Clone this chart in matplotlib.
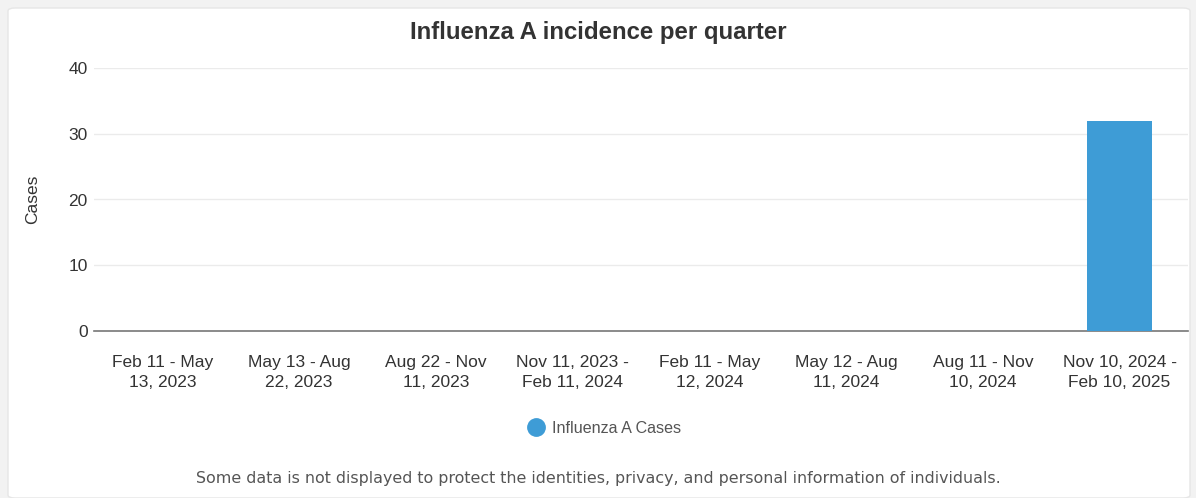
import matplotlib.pyplot as plt
from matplotlib.patches import FancyBboxPatch
from matplotlib.lines import Line2D

quarters = ["Feb 11 - May\n13, 2023", "May 13 - Aug\n22, 2023", "Aug 22 - Nov\n11, 2023",
            "Nov 11, 2023 -\nFeb 11, 2024", "Feb 11 - May\n12, 2024", "May 12 - Aug\n11, 2024",
            "Aug 11 - Nov\n10, 2024", "Nov 10, 2024 -\nFeb 10, 2025"]
cases = [0, 0, 0, 0, 0, 0, 0, 32]
yticks = [0, 10, 20, 30, 40]

plt.rcParams['font.family'] = ['Liberation Sans', 'DejaVu Sans']
blue = '#3e9cd6'

fig = plt.figure(figsize=(11.96, 4.98), dpi=100)
fig.patch.set_facecolor('#f2f2f2')
# white card behind everything
card = FancyBboxPatch((8/1196, 0), 1 - 14/1196, 1 - 8/498,
                      boxstyle="round,pad=0,rounding_size=0.006",
                      transform=fig.transFigure, facecolor='white',
                      edgecolor='#e6e6e6', linewidth=1, zorder=-10)
fig.patches.append(card)

ax = fig.add_axes([94/1196, 1 - 331/498, (1188 - 94)/1196, (331 - 68)/498])
ax.set_zorder(1)
ax.set_facecolor('none')
x = range(len(quarters))
ax.bar(x, cases, width=0.47, color=blue, zorder=3)
ax.set_xlim(-0.5, len(quarters) - 0.5)
ax.set_ylim(0, 40)
ax.set_yticks(yticks)
ax.set_xticks(list(x))
ax.set_xticklabels(quarters, fontsize=12.5, color='#333333', linespacing=1.45)
ax.tick_params(axis='y', labelsize=12.5, labelcolor='#333333', length=0, pad=4.5)
ax.tick_params(axis='x', length=0, pad=17)
ax.grid(axis='y', color='#ebebeb', linewidth=1, zorder=0)
for s in ['top', 'right', 'left']:
    ax.spines[s].set_visible(False)
ax.spines['bottom'].set_color('#777777')
ax.spines['bottom'].set_linewidth(1.2)

ax.set_ylabel('Cases', fontsize=12.5, color='#333333')
ax.yaxis.set_label_coords(-0.049, 0.5)

fig.text(0.5, 1 - 32/498, 'Influenza A incidence per quarter', ha='center', va='center',
         fontsize=17.3, fontweight='bold', color='#333333')

handle = Line2D([], [], marker='o', linestyle='none', markersize=12.5, color=blue)
fig.legend([handle], ['Influenza A Cases'], loc='center', bbox_to_anchor=(0.5 + 5/1196, 1 - 428/498),
           frameon=False, fontsize=11.6, labelcolor='#555555', handletextpad=0.3,
           handlelength=1.4)

fig.text(0.5, 1 - 478/498,
         'Some data is not displayed to protect the identities, privacy, and personal information of individuals.',
         ha='center', va='center', fontsize=11.4, color='#555555', family=['DejaVu Sans'])

fig.savefig('out.png', dpi=100, facecolor=fig.get_facecolor())
